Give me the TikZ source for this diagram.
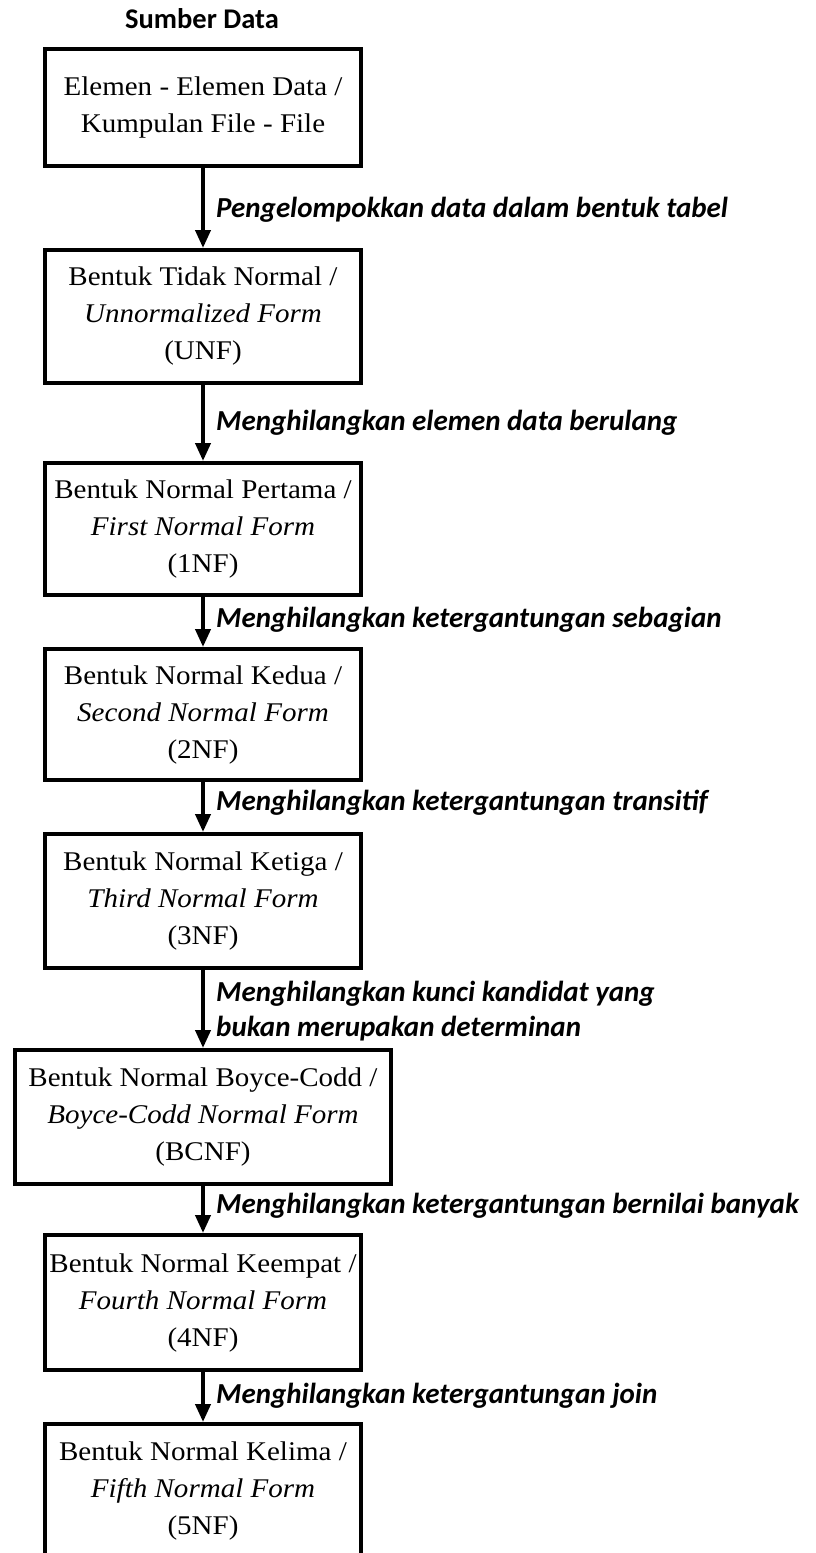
\documentclass[tikz,border=0pt]{standalone}
\usepackage{fontspec}
\setmainfont{Liberation Serif}
\newfontfamily\boxfont[FakeStretch=1.075]{Liberation Serif}
\newfontfamily\lblfont{Carlito}
\usetikzlibrary{arrows.meta}
\begin{document}
\begin{tikzpicture}[x=1pt,y=-1pt,
  box/.style={draw, line width=4pt, inner sep=0pt, minimum width=316pt, align=center,
    font=\boxfont\fontsize{27}{37}\selectfont},
  lbl/.style={inner sep=0pt, align=left,
    font=\lblfont\bfseries\itshape\fontsize{29}{35}\selectfont},
  arr/.style={line width=4pt, -{Triangle[length=18pt,width=15pt]}}]
\clip (0,0) rectangle (816,1553);
\fill[white] (0,0) rectangle (816,1553);
\node[font=\lblfont\bfseries\fontsize{28.5}{32}\selectfont, anchor=base, inner sep=0pt] (title) at (202,28) {Sumber Data};

\node[box, minimum height=117pt] (b1) at (203,107.5) {Elemen - Elemen Data /\\Kumpulan File - File};
\node[box, minimum height=133pt] (b2) at (203,316.5) {Bentuk Tidak Normal /\\\textit{Unnormalized Form}\\(UNF)};
\node[box, minimum height=132pt] (b3) at (203,529) {Bentuk Normal Pertama /\\\textit{First Normal Form}\\(1NF)};
\node[box, minimum height=131pt] (b4) at (203,714.5) {Bentuk Normal Kedua /\\\textit{Second Normal Form}\\(2NF)};
\node[box, minimum height=134pt] (b5) at (203,901) {Bentuk Normal Ketiga /\\\textit{Third Normal Form}\\(3NF)};
\node[box, minimum height=134pt, minimum width=376pt] (b6) at (203,1117) {Bentuk Normal Boyce-Codd /\\\textit{Boyce-Codd Normal Form}\\(BCNF)};
\node[box, minimum height=135pt] (b7) at (203,1302.5) {Bentuk Normal Keempat /\\\textit{Fourth Normal Form}\\(4NF)};
\node[box, minimum height=134pt] (b8) at (203,1491) {Bentuk Normal Kelima /\\\textit{Fifth Normal Form}\\(5NF)};

\draw[arr] (b1.south) -- (b2.north);
\draw[arr] (b2.south) -- (b3.north);
\draw[arr] (b3.south) -- (b4.north);
\draw[arr] (b4.south) -- (b5.north);
\draw[arr] (b5.south) -- (b6.north);
\draw[arr] (b6.south) -- (b7.north);
\draw[arr] (b7.south) -- (b8.north);

\node[lbl, anchor=base west] (l1) at (216,217) {Pengelompokkan data dalam bentuk tabel};
\node[lbl, anchor=base west] (l2) at (216,430) {Menghilangkan elemen data berulang};
\node[lbl, anchor=base west] (l3) at (216,627) {Menghilangkan ketergantungan sebagian};
\node[lbl, anchor=base west] (l4) at (216,810) {Menghilangkan ketergantungan transitif};
\node[lbl, anchor=west] (l5) at (216,1011) {Menghilangkan kunci kandidat yang\\bukan merupakan determinan};
\node[lbl, anchor=base west] (l6) at (216,1213) {Menghilangkan ketergantungan bernilai banyak};
\node[lbl, anchor=base west] (l7) at (216,1403) {Menghilangkan ketergantungan join};
\end{tikzpicture}
\end{document}
